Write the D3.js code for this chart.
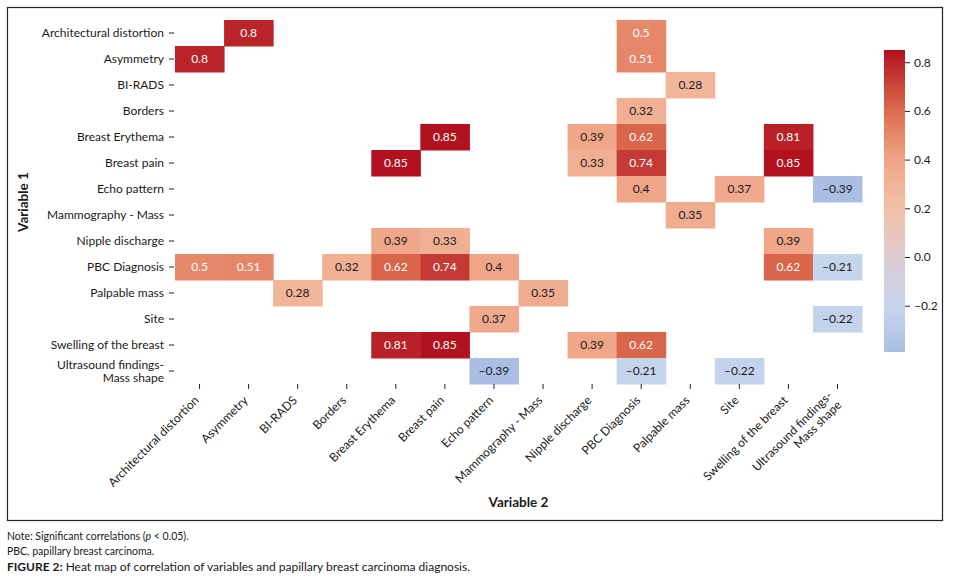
<!DOCTYPE html>
<html lang="en">
<head>
    <meta charset="UTF-8">
    <title>Heat map of correlation</title>
    <script src="https://d3js.org/d3.v7.min.js"></script>
    <style>
        body { margin: 0; background: #fff; }
        text { font-family: Lato, "Open Sans", sans-serif; fill: #1a1a1a; }
    </style>
</head>
<body>
    <script>
        // variable names (same order on both axes)
        var variables = ["Architectural distortion", "Asymmetry", "BI-RADS", "Borders",
            "Breast Erythema", "Breast pain", "Echo pattern", "Mammography - Mass",
            "Nipple discharge", "PBC Diagnosis", "Palpable mass", "Site",
            "Swelling of the breast", "Ultrasound findings-\nMass shape"];

        // significant correlations only, null = blank cell
        var N = null;
        var values = [
            [N, 0.8, N, N, N, N, N, N, N, 0.5, N, N, N, N],
            [0.8, N, N, N, N, N, N, N, N, 0.51, N, N, N, N],
            [N, N, N, N, N, N, N, N, N, N, 0.28, N, N, N],
            [N, N, N, N, N, N, N, N, N, 0.32, N, N, N, N],
            [N, N, N, N, N, 0.85, N, N, 0.39, 0.62, N, N, 0.81, N],
            [N, N, N, N, 0.85, N, N, N, 0.33, 0.74, N, N, 0.85, N],
            [N, N, N, N, N, N, N, N, N, 0.4, N, 0.37, N, -0.39],
            [N, N, N, N, N, N, N, N, N, N, 0.35, N, N, N],
            [N, N, N, N, 0.39, 0.33, N, N, N, N, N, N, 0.39, N],
            [0.5, 0.51, N, 0.32, 0.62, 0.74, 0.4, N, N, N, N, N, 0.62, -0.21],
            [N, N, 0.28, N, N, N, N, 0.35, N, N, N, N, N, N],
            [N, N, N, N, N, N, 0.37, N, N, N, N, N, N, -0.22],
            [N, N, N, N, 0.81, 0.85, N, N, 0.39, 0.62, N, N, N, N],
            [N, N, N, N, N, N, -0.39, N, N, -0.21, N, -0.22, N, N]
        ];

        var colorTicks = [0.8, 0.6, 0.4, 0.2, 0.0, -0.2];
        var colorDomain = [-0.39, 0.85];

        var w = 953, h = 582;
        var plotLeft = 175, plotRight = 862, plotTop = 20, plotBottom = 384;

        var svg = d3.select("body").append("svg")
            .attr("width", w)
            .attr("height", h);

        // frame around the figure
        svg.append("rect")
            .attr("x", 7.5).attr("y", 7.5)
            .attr("width", 935).attr("height", 513)
            .attr("fill", "none")
            .attr("stroke", "#222")
            .attr("stroke-width", 1.2);

        var x = d3.scaleBand().domain(d3.range(variables.length)).range([plotLeft, plotRight]);
        var y = d3.scaleBand().domain(d3.range(variables.length)).range([plotTop, plotBottom]);

        var color = d3.scaleLinear()
            .domain([-0.39, -0.2, 0, 0.2, 0.4, 0.6, 0.85])
            .range(["#a9bee2", "#c7d6ed", "#dccbd3", "#f3c1a6", "#efa587", "#dc6c4f", "#b2121f"])
            .clamp(true);

        var fmt = v => String(v).replace("-", "\u2013");

        var cells = [];
        values.forEach((row, i) => row.forEach((v, j) => {
            if (v !== null) cells.push({ r: i, c: j, v: v });
        }));

        var g = svg.append("g");
        g.selectAll("rect.cell")
            .data(cells)
            .join("rect")
            .attr("class", "cell")
            .attr("x", d => x(d.c))
            .attr("y", d => y(d.r))
            .attr("width", x.bandwidth() + 0.5)
            .attr("height", y.bandwidth() + 0.5)
            .attr("fill", d => color(d.v));

        g.selectAll("text.val")
            .data(cells)
            .join("text")
            .attr("class", "val")
            .attr("x", d => x(d.c) + x.bandwidth() / 2)
            .attr("y", d => y(d.r) + y.bandwidth() / 2)
            .attr("dy", "0.36em")
            .attr("text-anchor", "middle")
            .style("font-size", "12px")
            .style("fill", d => d.v >= 0.5 ? "#fff" : "#1a1a1a")
            .text(d => fmt(d.v));

        // y axis
        var yAxis = svg.append("g")
            .attr("transform", "translate(" + plotLeft + ",0)")
            .call(d3.axisLeft(y).tickSize(5).tickPadding(6).tickFormat(""));
        yAxis.select(".domain").remove();
        yAxis.selectAll(".tick line").attr("stroke", "#222").attr("transform", "translate(-1,0)");
        yAxis.selectAll(".tick").each(function (d) {
            var lines = variables[d].split("\n");
            var t = d3.select(this).append("text")
                .attr("x", -11)
                .attr("text-anchor", "end")
                .style("font-size", "12px");
            lines.forEach((s, k) => {
                t.append("tspan")
                    .attr("x", -11)
                    .attr("dy", k === 0 ? (0.36 - (lines.length - 1) * 0.55) + "em" : "1.1em")
                    .text(s);
            });
        });

        // x axis
        var xAxis = svg.append("g")
            .attr("transform", "translate(0," + plotBottom + ")")
            .call(d3.axisBottom(x).tickSize(5).tickFormat(""));
        xAxis.select(".domain").remove();
        xAxis.selectAll(".tick line").attr("stroke", "#222");
        xAxis.selectAll(".tick").each(function (d) {
            var lines = variables[d].split("\n");
            var t = d3.select(this).append("text")
                .attr("transform", "translate(-3,14) rotate(-45)")
                .attr("text-anchor", "end")
                .style("font-size", "12px");
            lines.forEach((s, k) => {
                t.append("tspan")
                    .attr("x", 0)
                    .attr("dy", k === 0 ? (0.36 - (lines.length - 1) * 0.55) + "em" : "1.1em")
                    .text(s);
            });
        });

        // axis titles
        svg.append("text")
            .attr("x", (plotLeft + plotRight) / 2)
            .attr("y", 507)
            .attr("text-anchor", "middle")
            .style("font-size", "13.5px")
            .style("font-weight", "bold")
            .text("Variable 2");

        svg.append("text")
            .attr("transform", "translate(28," + (plotTop + plotBottom) / 2 + ") rotate(-90)")
            .attr("text-anchor", "middle")
            .style("font-size", "13.5px")
            .style("font-weight", "bold")
            .text("Variable 1");

        // colour bar
        var cbX = 884, cbW = 21, cbTop = 50, cbBottom = 352;
        var cbScale = d3.scaleLinear().domain(colorDomain).range([cbBottom, cbTop]);

        var grad = svg.append("defs").append("linearGradient")
            .attr("id", "cbGrad")
            .attr("x1", 0).attr("y1", 1).attr("x2", 0).attr("y2", 0);
        d3.range(0, 1.0001, 0.05).forEach(t => {
            var v = colorDomain[0] + t * (colorDomain[1] - colorDomain[0]);
            grad.append("stop").attr("offset", t).attr("stop-color", color(v));
        });

        svg.append("rect")
            .attr("x", cbX).attr("y", cbTop)
            .attr("width", cbW).attr("height", cbBottom - cbTop)
            .attr("fill", "url(#cbGrad)");

        var cbAxis = svg.append("g")
            .attr("transform", "translate(" + (cbX + cbW) + ",0)")
            .call(d3.axisRight(cbScale).tickValues(colorTicks).tickSize(5).tickPadding(4)
                .tickFormat(v => d3.format(".1f")(v).replace("\u2212", "\u2013")));
        cbAxis.select(".domain").remove();
        cbAxis.selectAll(".tick line").attr("stroke", "#222");
        cbAxis.selectAll(".tick text")
            .style("font-family", "Lato, sans-serif")
            .style("font-size", "12px")
            .attr("fill", "#1a1a1a");

        // notes under the figure
        var note = svg.append("text").attr("x", 7).attr("y", 540).style("font-size", "10.5px");
        note.append("tspan").text("Note: Significant correlations (");
        note.append("tspan").style("font-style", "italic").text("p");
        note.append("tspan").text(" < 0.05).");

        svg.append("text").attr("x", 7).attr("y", 555).style("font-size", "10.5px")
            .text("PBC, papillary breast carcinoma.");

        var cap = svg.append("text").attr("x", 7).attr("y", 571).style("font-size", "12px");
        cap.append("tspan").style("font-weight", "bold").text("FIGURE 2:");
        cap.append("tspan").text(" Heat map of correlation of variables and papillary breast carcinoma diagnosis.");
    </script>
</body>
</html>
